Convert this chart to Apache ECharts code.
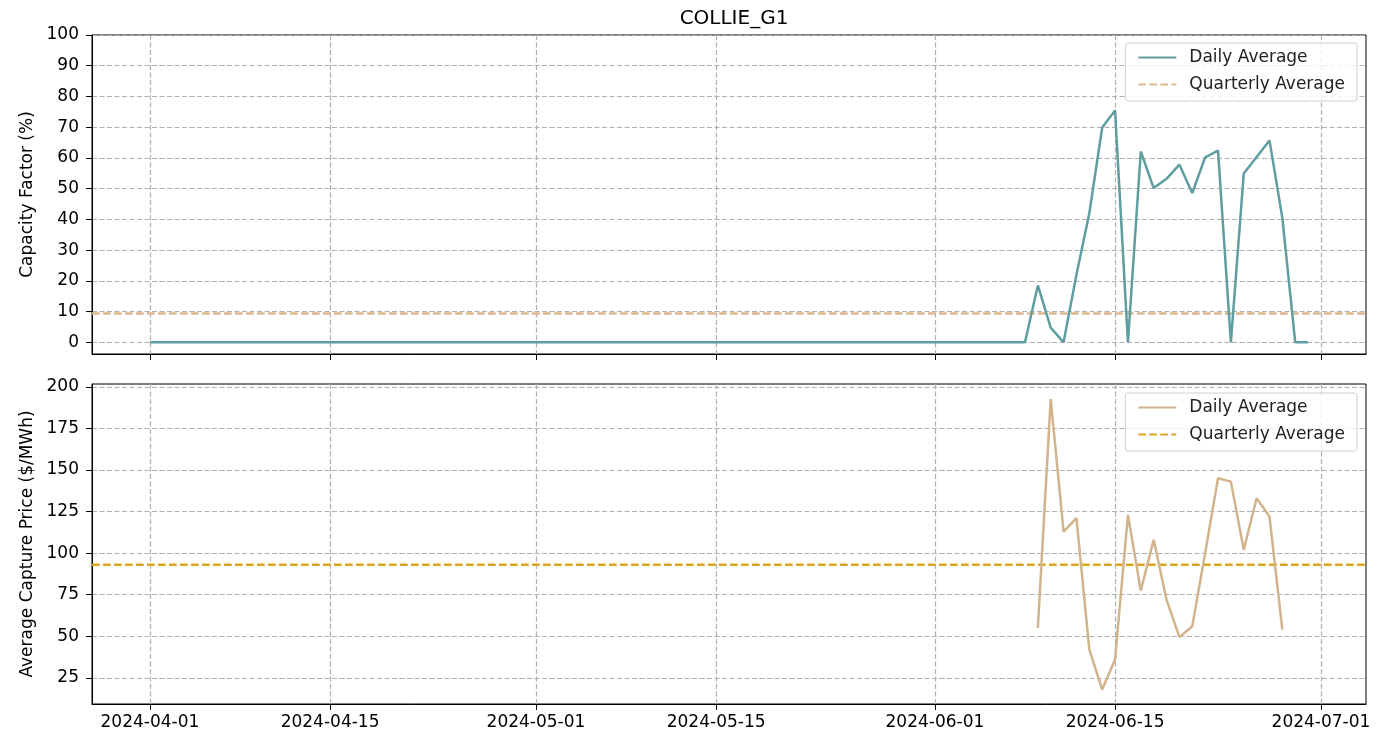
<!DOCTYPE html>
<html lang="en">
<head>
    <meta charset="UTF-8">
    <title>COLLIE_G1</title>
    <script src="https://cdn.jsdelivr.net/npm/echarts@6/dist/echarts.min.js"></script>
    <style>
        html, body { margin: 0; padding: 0; background: #fff; }
        #chart { width: 1385px; height: 736px; }
    </style>
</head>
<body>
<div id="chart"></div>
<script>
    // 数据：容量因子从 2024-04-01 开始，每天一个值
    const cfStart = '2024-04-01';
    const cfDaily = [
        0, 0, 0, 0, 0, 0, 0, 0, 0, 0,
        0, 0, 0, 0, 0, 0, 0, 0, 0, 0,
        0, 0, 0, 0, 0, 0, 0, 0, 0, 0,
        0, 0, 0, 0, 0, 0, 0, 0, 0, 0,
        0, 0, 0, 0, 0, 0, 0, 0, 0, 0,
        0, 0, 0, 0, 0, 0, 0, 0, 0, 0,
        0, 0, 0, 0, 0, 0, 0, 0, 0,
        18.5, 4.8, 0, 22, 42, 69.9, 75.4, 0, 62.1, 50.2,
        53.2, 57.8, 48.6, 60.2, 62.4, 0, 54.9, 60.3, 65.7, 40.5,
        0, 0
    ];
    const cfQuarterly = 9.4;

    // 捕获价格从 2024-06-09 开始
    const priceStart = '2024-06-09';
    const priceDaily = [
        55, 192.6, 113, 121, 42, 18, 36, 123, 77.5, 108,
        72, 49.5, 56, 100, 145, 143, 102, 133, 122, 54
    ];
    const priceQuarterly = 93;

    const xTicks = ['2024-04-01', '2024-04-15', '2024-05-01', '2024-05-15', '2024-06-01', '2024-06-15', '2024-07-01'];
    const cfTicks = [0, 10, 20, 30, 40, 50, 60, 70, 80, 90, 100];
    const priceTicks = [25, 50, 75, 100, 125, 150, 175, 200];

    const DAY = 86400000;
    function toTime(s) {
        let p = s.split('-');
        return Date.UTC(+p[0], +p[1] - 1, +p[2]);
    }
    function pairs(start, values) {
        let t0 = toTime(start);
        return values.map(function (v, i) {
            return [t0 + i * DAY, v];
        });
    }
    function fmt(v) {
        let d = new Date(v);
        let m = d.getUTCMonth() + 1, dd = d.getUTCDate();
        return d.getUTCFullYear() + '-' + (m < 10 ? '0' + m : m) + '-' + (dd < 10 ? '0' + dd : dd);
    }

    const xMin = toTime('2024-03-27') + DAY / 2;
    const xMax = toTime('2024-07-04') + DAY / 2;
    const xTickVals = xTicks.map(toTime);

    const font = 'DejaVu Sans';
    const gridDash = { color: '#b0b0b0', type: [5, 2.5], width: 1.2 };

    function xAxis(idx, showLabel) {
        return {
            type: 'value',
            gridIndex: idx,
            min: xMin,
            max: xMax,
            axisLine: { show: true, onZero: false, lineStyle: { color: '#000', width: 1 } },
            axisTick: { show: true, length: 6, lineStyle: { color: '#000' }, customValues: xTickVals },
            axisLabel: {
                show: showLabel,
                customValues: xTickVals,
                fontFamily: font, fontSize: 17, color: '#000', margin: 10,
                formatter: fmt
            },
            splitLine: { show: true, lineStyle: gridDash }
        };
    }

    function yAxis(idx, name, min, max, ticks) {
        return {
            type: 'value',
            gridIndex: idx,
            min: min,
            max: max,
            name: name,
            nameLocation: 'middle',
            nameGap: 56,
            nameTextStyle: { fontFamily: font, fontSize: 17, color: '#000' },
            axisLine: { show: true, onZero: false, lineStyle: { color: '#000', width: 1 } },
            axisTick: { show: true, length: 6, lineStyle: { color: '#000' }, customValues: ticks },
            axisLabel: { customValues: ticks, fontFamily: font, fontSize: 17, color: '#000', margin: 13 },
            splitLine: { show: true, lineStyle: gridDash }
        };
    }

    const labels = {
        cf_daily: 'Daily Average', cf_q: 'Quarterly Average',
        pr_daily: 'Daily Average', pr_q: 'Quarterly Average'
    };

    function legend(top, names) {
        return {
            data: names,
            orient: 'vertical',
            right: 28,
            top: top,
            itemWidth: 38,
            itemHeight: 14,
            itemGap: 10,
            padding: [6, 12, 8, 12],
            backgroundColor: 'rgba(255,255,255,0.8)',
            borderColor: '#d0d0d0',
            borderWidth: 1,
            borderRadius: 3,
            itemStyle: { color: 'rgba(0,0,0,0)', borderWidth: 0, opacity: 0 },
            textStyle: { fontFamily: font, fontSize: 17, color: '#222', padding: [0, 0, 0, 8] },
            formatter: function (n) { return labels[n]; },
            selectedMode: false
        };
    }

    let myChart = echarts.init(document.getElementById('chart'));

    let option = {
        animation: false,
        backgroundColor: '#fff',
        title: {
            text: 'COLLIE_G1',
            left: 729,
            textAlign: 'center',
            top: 4,
            textStyle: { fontFamily: font, fontSize: 20, fontWeight: 'normal', color: '#000' }
        },
        legend: [
            legend(43, ['cf_daily', 'cf_q']),
            legend(393, ['pr_daily', 'pr_q'])
        ],
        grid: [
            { left: 92, right: 19, top: 35, height: 319, show: true, borderColor: '#000', borderWidth: 1 },
            { left: 92, right: 19, top: 384, height: 320, show: true, borderColor: '#000', borderWidth: 1 }
        ],
        xAxis: [xAxis(0, false), xAxis(1, true)],
        yAxis: [
            yAxis(0, 'Capacity Factor (%)', -3.8, 100, cfTicks),
            yAxis(1, 'Average Capture Price ($/MWh)', 9.3, 201.7, priceTicks)
        ],
        series: [
            {
                name: 'cf_daily', type: 'line', xAxisIndex: 0, yAxisIndex: 0,
                symbol: 'none', lineStyle: { color: '#5f9ea0', width: 2.5 }, itemStyle: { color: '#5f9ea0' },
                data: pairs(cfStart, cfDaily), z: 3
            },
            {
                name: 'cf_q', type: 'line', xAxisIndex: 0, yAxisIndex: 0,
                symbol: 'none', lineStyle: { color: '#dcb88e', width: 2.5, type: [7.7, 3.3] }, itemStyle: { color: '#dcb88e' },
                data: [[xMin, cfQuarterly], [xMax, cfQuarterly]], z: 2
            },
            {
                name: 'pr_daily', type: 'line', xAxisIndex: 1, yAxisIndex: 1,
                symbol: 'none', lineStyle: { color: '#d2b48c', width: 2.5 }, itemStyle: { color: '#d2b48c' },
                data: pairs(priceStart, priceDaily), z: 3
            },
            {
                name: 'pr_q', type: 'line', xAxisIndex: 1, yAxisIndex: 1,
                symbol: 'none', lineStyle: { color: '#daa520', width: 2.5, type: [7.7, 3.3] }, itemStyle: { color: '#daa520' },
                data: [[xMin, priceQuarterly], [xMax, priceQuarterly]], z: 2
            }
        ]
    };

    myChart.setOption(option);
</script>
</body>
</html>
